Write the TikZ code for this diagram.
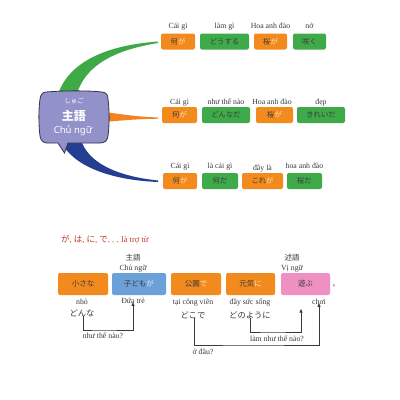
\documentclass[tikz,border=0pt]{standalone}
\usepackage{fontspec}
\setmainfont{Liberation Serif}
\newfontfamily\jp{Noto Sans CJK JP}
\newfontfamily\sansv{Noto Sans}
\usetikzlibrary{arrows.meta}
\definecolor{orB}{HTML}{F28A1E}
\definecolor{grB}{HTML}{3FAA4A}
\definecolor{blB}{HTML}{6CA0D9}
\definecolor{pkB}{HTML}{EE90C2}
\definecolor{ptO}{HTML}{FDE6B2}
\definecolor{ptB}{HTML}{DDEBFA}
\definecolor{txt}{HTML}{3A3A3A}
\definecolor{bub}{HTML}{9391C9}
\definecolor{bubL}{HTML}{35354A}
\definecolor{cG}{HTML}{3DAA45}
\definecolor{cO}{HTML}{F4821F}
\definecolor{cB}{HTML}{243F92}
\definecolor{redT}{HTML}{C0392B}
\begin{document}
\begin{tikzpicture}[x=1pt,y=-1pt,
  box/.style={rounded corners=2pt, inner sep=0pt, text=txt, minimum height=16pt,
    font=\jp\fontsize{7.3}{8}\selectfont},
  ob/.style={box, fill=orB},
  gb/.style={box, fill=grB},
  bb/.style={box, minimum height=22pt, font=\jp\fontsize{7.5}{8}\selectfont},
  lab/.style={font=\fontsize{7.8}{8}\selectfont, text=txt, inner sep=0pt, anchor=base},
  jlab/.style={font=\jp\fontsize{8.3}{9}\selectfont, text=txt, inner sep=0pt},
  arr/.style={draw=txt, line width=0.6pt, -{Triangle[length=3.5pt,width=3pt]}}]
\useasboundingbox (0,0) rectangle (400,400);
\fill[white] (0,0) rectangle (400,400);

% --- connecting tapered curves
\coordinate (g1) at (158,41.5);
\coordinate (o1) at (158,117.5);
\coordinate (b1) at (158,182);
\fill[cG] (57,97) .. controls (68,60) and (110,45) .. (g1) -- ++(0,1.5)
  .. controls (115,50) and (84,65) .. (76,97) -- cycle;
\fill[cO] (105,112) .. controls (125,115) and (140,116.8) .. (o1) -- ++(0,1.2)
  .. controls (140,119) and (125,120) .. (105,122) -- cycle;
\fill[cB] (60,140) .. controls (72,166) and (110,180) .. (b1) -- ++(0,-1.5)
  .. controls (115,176) and (88,162) .. (81,140) -- cycle;

% --- speech bubble
\draw[fill=bub, draw=bubL, line width=0.8pt]
  (46,92) .. controls (65,90.5) and (88,90.5) .. (102,92)
  .. controls (106,92.3) and (108,95) .. (108,99)
  .. controls (109.5,112) and (109.5,124) .. (108,136)
  .. controls (107.5,140.5) and (105,143) .. (100,143)
  -- (68,143) -- (64.5,153) -- (58,143) -- (47,143)
  .. controls (43,143) and (40.5,140) .. (40,136)
  .. controls (38.5,124) and (38.5,110) .. (40,99)
  .. controls (40.5,94.5) and (43,92) .. (46,92) -- cycle;
\node[text=white, inner sep=0pt, font=\jp\fontsize{6.5}{6.5}\selectfont] (kana) at (74,101) {しゅご};
\node[text=white, inner sep=0pt, font=\jp\bfseries\fontsize{12}{12}\selectfont] (shugo) at (74,116) {主語};
\node[text=white, inner sep=0pt, font=\sansv\fontsize{9.5}{9.5}\selectfont] (chu) at (73,130.5) {Chủ ngữ};

% --- row 1
\node[ob, minimum width=34pt] (a1) at (178,41.5) {何\textcolor{ptO}{が}};
\node[gb, minimum width=49pt] (a2) at (224.5,41.5) {どうする};
\node[ob, minimum width=33pt] (a3) at (270.5,41.5) {桜\textcolor{ptO}{が}};
\node[gb, minimum width=33pt] (a4) at (309.5,41.5) {咲く};
\node[lab] (la1) at (178,28.5) {Cái gì};
\node[lab] (la2) at (224.5,28.5) {làm gì};
\node[lab] (la3) at (270.5,28.5) {Hoa anh đào};
\node[lab] (la4) at (309.5,28.5) {nở};

% --- row 2
\node[ob, minimum width=35pt] (b1n) at (179.5,115) {何\textcolor{ptO}{が}};
\node[gb, minimum width=48pt] (b2) at (226,115) {どんなだ};
\node[ob, minimum width=37pt] (b3) at (274.5,115) {桜\textcolor{ptO}{が}};
\node[gb, minimum width=48pt] (b4) at (321,115) {きれいだ};
\node[lab] (lb1) at (179.5,104.5) {Cái gì};
\node[lab] (lb2) at (226,104.5) {như thế nào};
\node[lab] (lb3) at (272,104.5) {Hoa anh đào};
\node[lab] (lb4) at (321,104.5) {đẹp};

% --- row 3
\node[ob, minimum width=34pt] (c1) at (180,181) {何\textcolor{ptO}{が}};
\node[gb, minimum width=36pt] (c2) at (220,181) {何だ};
\node[ob, minimum width=41pt] (c3) at (262.5,181) {これ\textcolor{ptO}{が}};
\node[gb, minimum width=35pt] (c4) at (304.5,181) {桜だ};
\node[lab] (lc1) at (180,168.5) {Cái gì};
\node[lab] (lc2) at (220,168.5) {là cái gì};
\node[lab] (lc3) at (262.5,170) {đây là};
\node[lab] (lc4) at (304.5,168.5) {hoa anh đào};

% --- bottom section
\node[anchor=base west, inner sep=0pt, text=redT, font=\fontsize{8.5}{9}\selectfont] (title) at (61,242.5)
  {{\jp が}, {\jp は}, {\jp に}, {\jp で}{\jp\fontsize{4.5}{4.5}\selectfont 。。。}là trợ từ};

\node[inner sep=0pt, text=txt, font=\jp\fontsize{7.5}{7.5}\selectfont] (sg) at (133,258) {主語};
\node[lab] (sgv) at (133,270.5) {Chủ ngữ};
\node[inner sep=0pt, text=txt, font=\jp\fontsize{7.5}{7.5}\selectfont] (jg) at (292,258) {述語};
\node[lab] (jgv) at (292,270.5) {Vị ngữ};

\node[bb, fill=orB, minimum width=50pt] (d1) at (83,284) {小さな};
\node[bb, fill=blB, minimum width=54pt] (d2) at (139,284) {子ども\textcolor{ptB}{が}};
\node[bb, fill=orB, minimum width=50pt] (d3) at (196,284) {公園\textcolor{ptO}{で}};
\node[bb, fill=orB, minimum width=49pt] (d4) at (250.5,284) {元気\textcolor{ptO}{に}};
\node[bb, fill=pkB, minimum width=49pt] (d5) at (305.5,284) {遊ぶ};
\node[inner sep=0pt, text=txt, font=\jp\fontsize{7}{7}\selectfont] (maru) at (336,286) {。};

\node[lab] (nho) at (82,304.5) {nhỏ};
\node[jlab] (donna) at (82,313.5) {どんな};
\node[lab] (tre) at (133,303.5) {Đứa trẻ};
\node[lab] (tai) at (193,304.5) {tại công viên};
\node[jlab] (doko) at (193,315) {どこで};
\node[lab] (day) at (250,304.5) {đầy sức sống};
\node[jlab] (yoni) at (250,315) {どのように};
\node[lab] (choi) at (319,304.5) {chơi};

\coordinate (m1) at (100,330);
\coordinate (m2) at (270,332);
\coordinate (m3) at (250,345);
\coordinate (p1) at (301,309);

\draw[arr] ([xshift=1pt,yshift=1pt]donna.south) |- (m1) -| ([yshift=1.5pt]tre.south);
\draw[arr] ([yshift=1pt]yoni.south) |- (m2) -| (p1);
\draw[arr] ([xshift=1pt,yshift=1pt]doko.south) |- (m3) -| ([yshift=1.5pt]choi.south);

\node[lab] (q1) at (103,338) {như thế nào?};
\node[lab] (q2) at (277,341) {làm như thế nào?};
\node[lab] (q3) at (203,354) {ở đâu?};
\end{tikzpicture}
\end{document}
